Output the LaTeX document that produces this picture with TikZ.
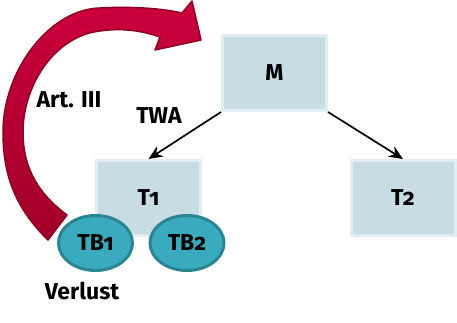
\documentclass[tikz,border=0pt]{standalone}
\usepackage{fontspec}
\setmainfont{Fira Sans}[Numbers=OldStyle]
\usepackage{tikz}
\usetikzlibrary{arrows.meta, positioning, shapes.geometric}
\definecolor{boxfill}{HTML}{C8DCE4}
\definecolor{boxline}{HTML}{E2ECF1}
\definecolor{tealfill}{HTML}{3AABBE}
\definecolor{tealline}{HTML}{2A8592}
\definecolor{redtop}{HTML}{CC003C}
\definecolor{redbot}{HTML}{A00028}
\definecolor{redline}{HTML}{8E0024}

\begin{document}
\begin{tikzpicture}[
    x=1pt, y=-1pt,
    tbox/.style={draw=boxline, fill=boxfill, line width=3pt, minimum width=104pt,
                 minimum height=75pt, inner sep=0pt, font=\fontsize{23}{27}\selectfont\bfseries},
    blob/.style={ellipse, draw=tealline, fill=tealfill, line width=3pt, minimum width=74pt,
                 minimum height=55pt, inner sep=0pt, font=\fontsize{23}{27}\selectfont\bfseries},
    lbl/.style={inner sep=0pt, font=\fontsize{23}{27}\selectfont\bfseries},
    link/.style={-{Stealth[length=14pt, width=12pt]}, line width=1.7pt, black},
]
    \useasboundingbox (0,0) rectangle (457,323);

    % curved red arrow
    \draw[redline, line width=1.5pt, top color=redtop, bottom color=redbot, line join=round]
        (48,240) .. controls (12,205) and (3,170) .. (3,132)
        .. controls (3,70) and (50,9) .. (100,8)
        .. controls (135,6) and (165,9) .. (182,13)
        -- (192,1) -- (201,40) -- (155,50) -- (160,37)
        .. controls (140,30) and (120,28) .. (100,31)
        .. controls (55,36) and (23,85) .. (23,132)
        .. controls (23,170) and (40,195) .. (67,215) -- cycle;

    \node[tbox] (M) at (274.5,73) {M};
    \node[tbox] (T1) at (148.5,198) {T1};
    \node[tbox] (T2) at (403,198) {T2};

    \node[blob] (TB1) at (95.5,243) {TB1};
    \node[blob] (TB2) at (187,243) {TB2};

    \node[lbl] (art) at (69,100) {Art. III};
    \node[lbl] (twa) at (159,116) {TWA};
    \node[lbl] (verlust) at (82,291) {Verlust};

    \draw[link] (M.south west) -- (T1.north);
    \draw[link] (M.south east) -- (T2.north);
\end{tikzpicture}
\end{document}
